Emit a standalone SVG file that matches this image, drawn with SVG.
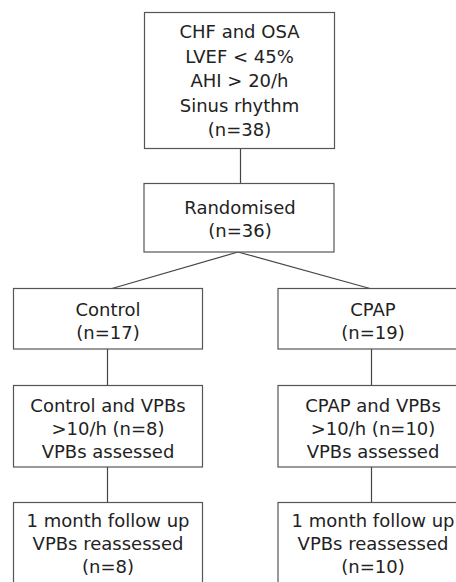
<svg xmlns="http://www.w3.org/2000/svg" width="456" height="582" viewBox="0 0 456 582">
<style>
.box{fill:#fff;stroke:#555;stroke-width:1.2}
.t{font-family:"DejaVu Sans",sans-serif;font-size:18px;fill:#222;text-anchor:middle}
.c{stroke:#444;stroke-width:1.2;fill:none}
</style>
<rect width="456" height="582" fill="#fff"/>
<g id="connectors">
<line class="c" x1="240.5" y1="148.5" x2="240.5" y2="183.5"/>
<line class="c" x1="238" y1="252" x2="112" y2="288.5"/>
<line class="c" x1="238" y1="252" x2="370" y2="288.5"/>
<line class="c" x1="107.5" y1="349" x2="107.5" y2="385.5"/>
<line class="c" x1="107.5" y1="467" x2="107.5" y2="502.5"/>
<line class="c" x1="371.5" y1="349" x2="371.5" y2="385.5"/>
<line class="c" x1="371.5" y1="467" x2="371.5" y2="502.5"/>
</g>
<g id="n_top">
<rect class="box" x="144.5" y="12.5" width="190" height="136"/>
<text class="t" x="239.5" y="38">CHF and OSA</text>
<text class="t" x="239.5" y="62.5">LVEF &lt; 45%</text>
<text class="t" x="239.5" y="87">AHI &gt; 20/h</text>
<text class="t" x="239.5" y="111.5">Sinus rhythm</text>
<text class="t" x="239.5" y="136">(n=38)</text>
</g>
<g id="n_rand">
<rect class="box" x="144" y="183.5" width="190" height="68.5"/>
<text class="t" x="240" y="213.5">Randomised</text>
<text class="t" x="240" y="237">(n=36)</text>
</g>
<g id="n_control">
<rect class="box" x="13.5" y="288.5" width="189" height="60.5"/>
<text class="t" x="108" y="315.5">Control</text>
<text class="t" x="108" y="338.5">(n=17)</text>
</g>
<g id="n_cpap">
<rect class="box" x="278" y="288.5" width="189" height="60.5"/>
<text class="t" x="373" y="315.5">CPAP</text>
<text class="t" x="373" y="338.5">(n=19)</text>
</g>
<g id="n_control_vpb">
<rect class="box" x="13.5" y="385.5" width="189" height="81.5"/>
<text class="t" x="108" y="412">Control and VPBs</text>
<text class="t" x="108" y="435">&gt;10/h (n=8)</text>
<text class="t" x="108" y="458">VPBs assessed</text>
</g>
<g id="n_cpap_vpb">
<rect class="box" x="278" y="385.5" width="189" height="81.5"/>
<text class="t" x="373" y="412">CPAP and VPBs</text>
<text class="t" x="373" y="435">&gt;10/h (n=10)</text>
<text class="t" x="373" y="458">VPBs assessed</text>
</g>
<g id="n_control_fu">
<rect class="box" x="13.5" y="502.5" width="189" height="90"/>
<text class="t" x="108" y="527">1 month follow up</text>
<text class="t" x="108" y="550">VPBs reassessed</text>
<text class="t" x="108" y="573">(n=8)</text>
</g>
<g id="n_cpap_fu">
<rect class="box" x="278" y="502.5" width="189" height="90"/>
<text class="t" x="373" y="527">1 month follow up</text>
<text class="t" x="373" y="550">VPBs reassessed</text>
<text class="t" x="373" y="573">(n=10)</text>
</g>
</svg>
